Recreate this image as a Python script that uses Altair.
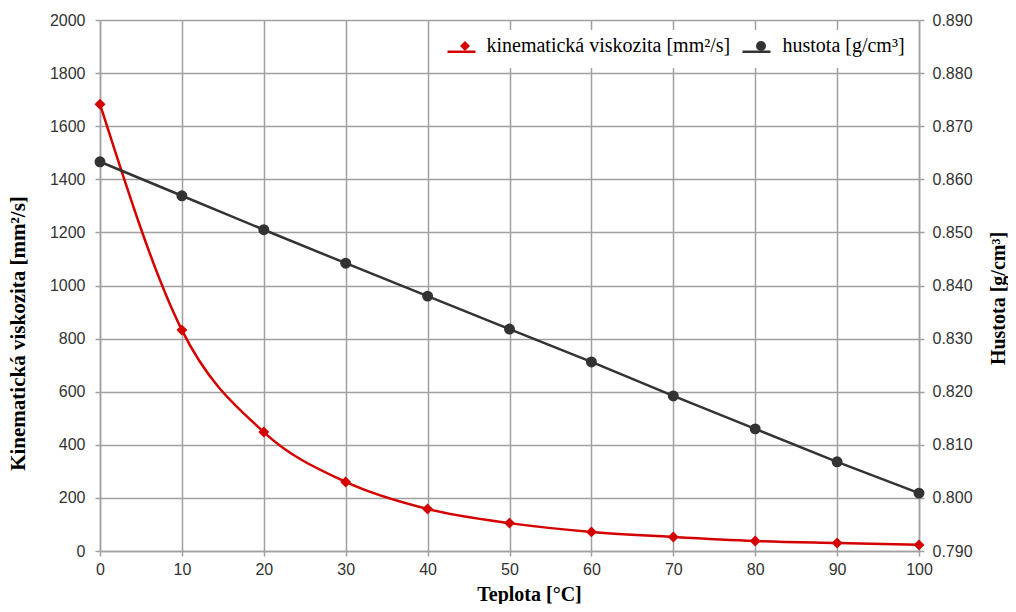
import altair as alt
import pandas as pd

teplota = [0, 10, 20, 30, 40, 50, 60, 70, 80, 90, 100]
viskozita = [1683, 832, 448, 260, 158, 105, 72, 53, 38, 30, 23]
hustota = [0.8633, 0.8569, 0.8505, 0.8442, 0.8380, 0.8318, 0.8256, 0.8192, 0.8130, 0.8068, 0.8009]

s_kin = "kinematická viskozita [mm²/s]"
s_hus = "hustota [g/cm³]"
series_names = [s_kin, s_hus]
series_colors = ["#d40000", "#333333"]
series_shapes = ["diamond", "circle"]

rows = [{"T": t, "v": v, "s": s_kin} for t, v in zip(teplota, viskozita)]
rows += [{"T": t, "v": v, "s": s_hus} for t, v in zip(teplota, hustota)]
df = pd.DataFrame(rows)
df["sl"] = df["s"] + " "  # key for the line legend (kept distinct so legends do not merge)
line_names = [n + " " for n in series_names]

label_font = "Liberation Sans"
title_font = "Liberation Serif"
LEG_X, LEG_Y = 340, 10
LEG_FS = 20
GRID = "#a0a0a0"

x_enc = alt.X(
    "T:Q",
    scale=alt.Scale(domain=[0, 100], nice=False),
    axis=alt.Axis(
        values=teplota, title="Teplota [°C]", titleFont=title_font, titleFontSize=20,
        titleFontWeight="bold", titleColor="#000", titleX=429, labelFont=label_font,
        labelFontSize=16, labelColor="#333", labelFlush=False, labelPadding=5, titlePadding=7,
        gridColor=GRID, gridOpacity=1, gridWidth=1.5, tickColor=GRID, tickWidth=1.5,
        domainColor=GRID, domainWidth=1.5, tickSize=5,
    ),
)
# line legend (stroke symbols, labels hidden) and point legend (markers + labels) stacked
color_enc = alt.Color(
    "sl:N", scale=alt.Scale(domain=line_names, range=series_colors),
    legend=alt.Legend(
        title=None, orient="none", legendX=LEG_X, legendY=LEG_Y, direction="horizontal",
        labelFont=title_font, labelFontSize=LEG_FS, labelColor="white", labelOpacity=0,
        labelExpr="trim(datum.label)",
        fillColor="white", symbolType="stroke", symbolSize=784, symbolStrokeWidth=2.5,
        columnPadding=11, padding=6, labelLimit=400, labelOffset=5,
    ),
)
fill_enc = alt.Fill(
    "s:N", scale=alt.Scale(domain=series_names, range=series_colors),
    legend=alt.Legend(
        title=None, orient="none", legendX=LEG_X, legendY=LEG_Y, direction="horizontal",
        labelFont=title_font, labelFontSize=LEG_FS, labelColor="#000",
        symbolSize=100, symbolOffset=9, labelOffset=11.5, symbolStrokeWidth=0,
        columnPadding=11, padding=6, labelLimit=400,
    ),
)
shape_enc = alt.Shape("s:N", scale=alt.Scale(domain=series_names, range=series_shapes))

base = alt.Chart(df)

y_left = alt.Y(
    "v:Q", scale=alt.Scale(domain=[0, 2000], nice=False),
    axis=alt.Axis(
        orient="left", values=list(range(0, 2001, 200)), format="d",
        title="Kinematická viskozita [mm²/s]", titleY=313,
        titleFont=title_font, titleFontSize=21, titleFontWeight="bold", titleColor="#000",
        labelFont=label_font, labelFontSize=16, labelColor="#333", labelPadding=10,
        titlePadding=21, gridColor=GRID, gridOpacity=1, gridWidth=1.5, tickColor=GRID,
        tickWidth=1.5, domainColor=GRID, domainWidth=1.5, tickSize=5,
    ),
)
y_right = alt.Y(
    "v:Q", scale=alt.Scale(domain=[0.79, 0.89], nice=False),
    axis=alt.Axis(
        orient="right", values=[round(0.79 + 0.01 * i, 2) for i in range(11)], format=".3f",
        title="Hustota [g/cm³]", titleAngle=270, titleY=278, titleFont=title_font,
        titleFontSize=20, titleFontWeight="bold", titleColor="#000", labelFont=label_font,
        labelFontSize=16, labelColor="#333", labelPadding=8, titlePadding=36, grid=False,
        tickColor=GRID, tickWidth=1.5, domainColor=GRID, domainWidth=1.5, tickSize=5,
    ),
)

kin = base.transform_filter(alt.datum.s == s_kin)
hus = base.transform_filter(alt.datum.s == s_hus)

kin_layer = alt.layer(
    kin.mark_line(strokeWidth=2.5, interpolate="monotone").encode(x=x_enc, y=y_left, color=color_enc),
    kin.mark_point(filled=True, size=120, opacity=1, strokeWidth=0).encode(x=x_enc, y=y_left, fill=fill_enc, shape=shape_enc),
)
hus_layer = alt.layer(
    hus.mark_line(strokeWidth=2.5).encode(x=x_enc, y=y_right, color=color_enc),
    hus.mark_point(filled=True, size=120, opacity=1, strokeWidth=0).encode(x=x_enc, y=y_right, fill=fill_enc, shape=shape_enc),
)

chart = (
    alt.layer(kin_layer, hus_layer)
    .resolve_scale(y="independent")
    .properties(
        width=819, height=531,
        autosize=alt.AutoSizeParams(type="none"),
        padding={"left": 92, "top": 12, "right": 89, "bottom": 53},
        background="white",
    )
    .configure_view(stroke=None)
)

chart.save("out.html", embed_options={"renderer": "svg", "actions": False})
